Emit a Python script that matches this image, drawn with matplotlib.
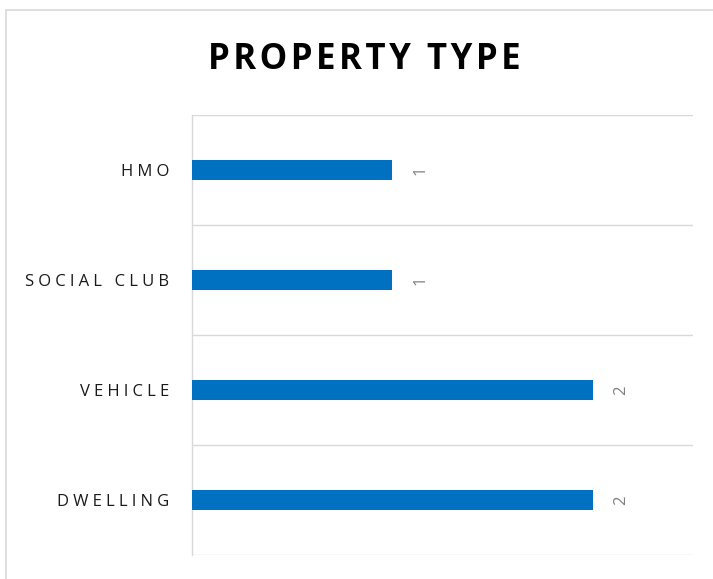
import matplotlib
matplotlib.use("Agg")
import matplotlib.pyplot as plt
from matplotlib.patches import Rectangle

plt.rcParams['font.family'] = ['Open Sans', 'DejaVu Sans']

# data
categories = ['HMO', 'SOCIAL CLUB', 'VEHICLE', 'DWELLING']
counts = [1, 1, 2, 2]
title = 'PROPERTY TYPE'

bar_color = '#0070C0'
grid_color = '#d9d9d9'


def spaced(s, gap='\u2009'):
    # fake letter spacing, excel style
    return gap.join(s)


fig = plt.figure(figsize=(7.13, 5.79), dpi=100)

# chart border (clipped at right and bottom like the screenshot)
fig.patches.append(Rectangle((6 / 713, -0.1), 1.2, 1 - 10 / 579 + 0.1,
                             transform=fig.transFigure, fill=False,
                             edgecolor=grid_color, linewidth=1.2))

ax = fig.add_axes([192 / 713, 1 - 555 / 579, (693 - 192) / 713, (555 - 115) / 579])

ypos = list(range(len(categories)))
ax.barh(ypos, counts, height=0.18, color=bar_color, zorder=3)

ax.set_xlim(0, 2.5)
ax.set_ylim(len(categories) - 0.5, -0.5)

# gridlines between categories
for b in [i - 0.5 for i in range(len(categories) + 1)]:
    ax.axhline(b, color=grid_color, linewidth=1, zorder=1)

for s in ['top', 'right', 'bottom']:
    ax.spines[s].set_visible(False)
ax.spines['left'].set_color(grid_color)
ax.spines['left'].set_linewidth(1)

ax.set_xticks([])
ax.set_yticks(ypos)
ax.set_yticklabels([spaced(c, '\u2005') for c in categories], fontsize=12, color='#1a1a1a')
ax.tick_params(axis='y', length=0, pad=16.5)

# data labels
for y, v in zip(ypos, counts):
    ax.annotate(str(v), (v, y), xytext=(20.5, 0), textcoords='offset points',
                rotation=90, ha='center', va='center', fontsize=12, color='#7f7f7f')

fig.text(364 / 713, 1 - 60 / 579, spaced(title, '\u200a'), ha='center', va='center',
         fontsize=25, fontweight='bold', color='black')

fig.savefig('out.png', dpi=100, facecolor='white')
